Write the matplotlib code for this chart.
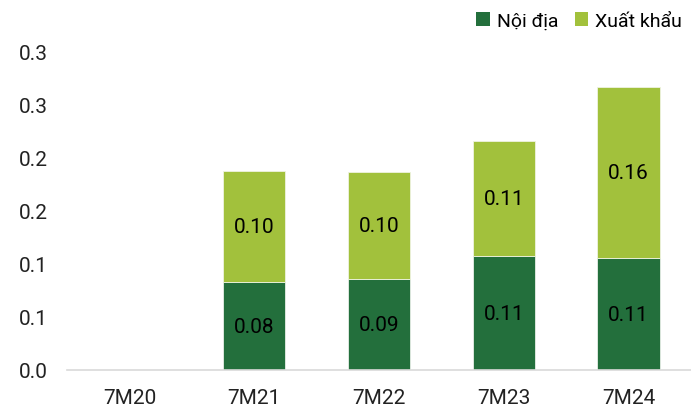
import matplotlib
matplotlib.use("Agg")
import matplotlib.pyplot as plt
from matplotlib.patches import Patch

categories = ["7M20", "7M21", "7M22", "7M23", "7M24"]
noi_dia = [0.0, 0.0827, 0.0855, 0.107, 0.105]
xuat_khau = [0.0, 0.104, 0.101, 0.108, 0.161]
noi_dia_labels = ["", "0.08", "0.09", "0.11", "0.11"]
xuat_khau_labels = ["", "0.10", "0.10", "0.11", "0.16"]
y_ticks = [0, 0.05, 0.10, 0.15, 0.20, 0.25, 0.30]
y_tick_labels = ["0.0", "0.1", "0.1", "0.2", "0.2", "0.3", "0.3"]

dark = "#236F3C"
light = "#A2C13C"
FS = 15

plt.rcParams['font.family'] = ['Roboto', 'DejaVu Sans']

fig = plt.figure(figsize=(6.91, 4.10), dpi=100)
ax = fig.add_axes([67/691, 1 - 371/410, 624/691, (371 - 52)/410])

x = list(range(len(categories)))
ax.bar(x, noi_dia, width=0.5, color=dark, edgecolor="#e8efe8", linewidth=0.6)
ax.bar(x, xuat_khau, width=0.5, bottom=noi_dia, color=light, edgecolor="#eef3e0", linewidth=0.6)

for i in x:
    if noi_dia_labels[i]:
        ax.text(i, noi_dia[i] / 2, noi_dia_labels[i], ha="center", va="center", fontsize=FS, color="black")
    if xuat_khau_labels[i]:
        ax.text(i, noi_dia[i] + xuat_khau[i] / 2, xuat_khau_labels[i], ha="center", va="center", fontsize=FS, color="black")

ax.set_xlim(-0.5, 4.5)
ax.set_ylim(0, 0.3)
ax.set_yticks(y_ticks)
ax.set_yticklabels(y_tick_labels)
ax.set_xticks(x)
ax.set_xticklabels(categories)
ax.tick_params(axis="y", length=0, pad=14, labelsize=FS, colors="#222222")
ax.tick_params(axis="x", length=0, pad=13, labelsize=FS, colors="#222222")

for s in ["top", "right", "left"]:
    ax.spines[s].set_visible(False)
ax.spines["bottom"].set_color("#d9d9d9")
ax.spines["bottom"].set_linewidth(1.2)

handles = [Patch(facecolor=dark, label="Nội địa"), Patch(facecolor=light, label="Xuất khẩu")]
fig.legend(handles=handles, loc="center right", bbox_to_anchor=(682/691, 1 - 22/410), ncol=2,
           frameon=False, fontsize=14, handlelength=0.7, handleheight=0.7, handletextpad=0.35,
           columnspacing=0.85, borderaxespad=0, borderpad=0)

fig.savefig("out.png", dpi=100)
